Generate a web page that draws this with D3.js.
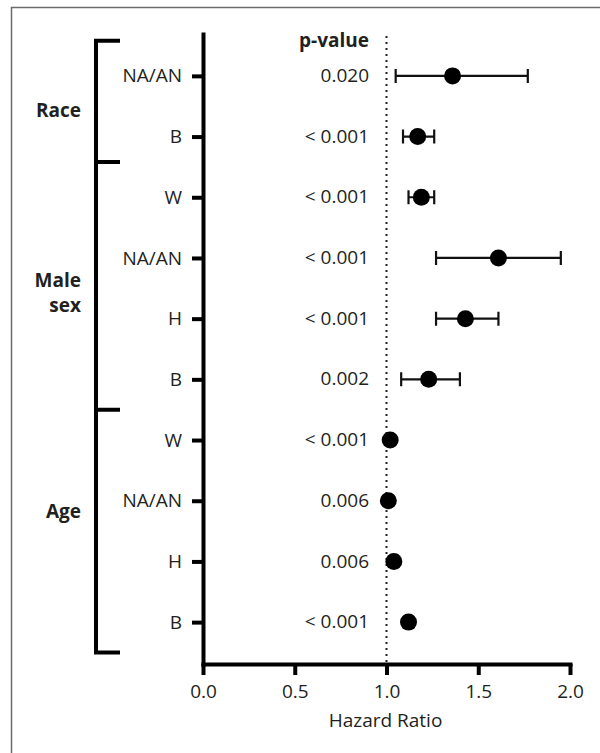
<!DOCTYPE html>
<html>
<head>
<meta charset="utf-8">
<script src="https://cdn.jsdelivr.net/npm/d3@7"></script>
<style>
    body { margin: 0; background: #fff; }
    text { font-family: "Open Sans", "Noto Sans", sans-serif; fill: #231f20; }
</style>
</head>
<body>
<div id="root"></div>
<script>
// rows from top to bottom
var rowLabels = ["NA/AN", "B", "W", "NA/AN", "H", "B", "W", "NA/AN", "H", "B"];
var hazardRatio = [1.36, 1.17, 1.19, 1.61, 1.43, 1.23, 1.02, 1.01, 1.04, 1.12];
var ciLow = [1.05, 1.09, 1.12, 1.27, 1.27, 1.08, 1.01, 1.00, 1.03, 1.10];
var ciHigh = [1.77, 1.26, 1.26, 1.95, 1.61, 1.40, 1.02, 1.02, 1.06, 1.14];
var pValues = ["0.020", "< 0.001", "< 0.001", "< 0.001", "< 0.001", "0.002", "< 0.001", "0.006", "0.006", "< 0.001"];

// groups: name (lines), first row, last row
var groupNames = [["Race"], ["Male", "sex"], ["Age"]];
var groupStart = [0, 2, 6];
var groupEnd = [1, 5, 9];

var xTicks = [0, 0.5, 1.0, 1.5, 2.0];

var width = 600;
var height = 753;
var fs = 19;

var svg = d3.select("#root")
    .append("svg")
    .attr("width", width)
    .attr("height", height);

// frame (only left and top edges show)
svg.append("path")
    .attr("d", "M11.5,753V7.5H600")
    .attr("fill", "none")
    .attr("stroke", "#6b6b6b")
    .attr("stroke-width", 1.5);

var x = d3.scaleLinear()
    .domain([0, 2])
    .range([203, 570]);

var y = d3.scalePoint()
    .domain(d3.range(rowLabels.length))
    .range([34, 664])
    .padding(0.69);

var step = y.step();

// reference line at HR = 1
svg.append("line")
    .attr("x1", x(1)).attr("x2", x(1))
    .attr("y1", 36).attr("y2", 662)
    .attr("stroke", "#231f20")
    .attr("stroke-width", 2)
    .attr("stroke-dasharray", "2,4");

// x axis
var xAxis = svg.append("g")
    .attr("transform", "translate(0,664)")
    .call(d3.axisBottom(x).tickValues(xTicks).tickFormat(d3.format(".1f")).tickSize(11).tickSizeOuter(0).tickPadding(10));

// y axis
var yAxis = svg.append("g")
    .attr("transform", "translate(203,0)")
    .call(d3.axisLeft(y).tickFormat((i) => rowLabels[i]).tickSize(11).tickSizeOuter(0).tickPadding(10));

[xAxis, yAxis].forEach((g) =>
{
    g.select(".domain").attr("stroke", "#000").attr("stroke-width", 4).attr("stroke-linecap", "square");
    g.selectAll(".tick line").attr("stroke", "#000").attr("stroke-width", 4);
    g.selectAll(".tick text").attr("font-size", fs).attr("fill", "#231f20").style("font-family", "'Open Sans', sans-serif");
});

svg.append("text")      // x axis label
    .attr("x", x(1) - 1)
    .attr("y", 727)
    .attr("text-anchor", "middle")
    .attr("font-size", fs)
    .text("Hazard Ratio");

// p-value column
svg.append("text")
    .attr("x", 369)
    .attr("y", y(0) - 0.58 * step)
    .attr("dy", "0.35em")
    .attr("text-anchor", "end")
    .attr("font-size", fs)
    .attr("font-weight", "bold")
    .text("p-value");

svg.selectAll(".pval")
    .data(pValues)
    .join("text")
    .attr("class", "pval")
    .attr("x", 369)
    .attr("y", (d, i) => y(i))
    .attr("dy", "0.32em")
    .attr("text-anchor", "end")
    .attr("font-size", fs)
    .text((d) => d);

// error bars
var rows = d3.range(rowLabels.length);
var capH = 7;

svg.selectAll(".ci")
    .data(rows)
    .join("path")
    .attr("class", "ci")
    .attr("fill", "none")
    .attr("stroke", "#111")
    .attr("stroke-width", 2.2)
    .attr("d", (i) =>
    {
        var lo = x(ciLow[i]), hi = x(ciHigh[i]), yy = y(i);
        return "M" + lo + "," + (yy - capH) + "V" + (yy + capH)
            + "M" + lo + "," + yy + "H" + hi
            + "M" + hi + "," + (yy - capH) + "V" + (yy + capH);
    });

// point estimates
svg.selectAll(".hr")
    .data(rows)
    .join("circle")
    .attr("class", "hr")
    .attr("cx", (i) => x(hazardRatio[i]))
    .attr("cy", (i) => y(i))
    .attr("r", 8.5)
    .attr("fill", "#000");

// group brackets on the left
var bx = 96;
var armEnd = 120;
var edges = [y(0) - 0.58 * step];
for (var g = 1; g < groupStart.length; g++)
{
    edges.push((y(groupEnd[g - 1]) + y(groupStart[g])) / 2 - (g == 1 ? 5 : 0));
}
edges.push(y(rowLabels.length - 1) + 0.5 * step);

svg.append("path")
    .attr("fill", "none")
    .attr("stroke", "#000")
    .attr("stroke-width", 4)
    .attr("d", "M" + armEnd + "," + edges[0] + "H" + bx + "V" + edges[edges.length - 1] + "H" + armEnd
        + edges.slice(1, -1).map((e) => "M" + bx + "," + e + "H" + armEnd).join(""));

// group labels, centred on their rows (Age sits a little higher in the original)
var labelShift = [4, 5, -20];
groupNames.forEach((lines, gi) =>
{
    var mid = (y(groupStart[gi]) + y(groupEnd[gi])) / 2 + labelShift[gi];
    var lh = 25;
    var t = svg.append("text")
        .attr("text-anchor", "end")
        .attr("font-size", fs)
        .attr("font-weight", "bold");
    lines.forEach((s, li) =>
    {
        t.append("tspan")
            .attr("x", 81)
            .attr("y", mid + (li - (lines.length - 1) / 2) * lh)
            .attr("dy", "0.35em")
            .text(s);
    });
});
</script>
</body>
</html>
